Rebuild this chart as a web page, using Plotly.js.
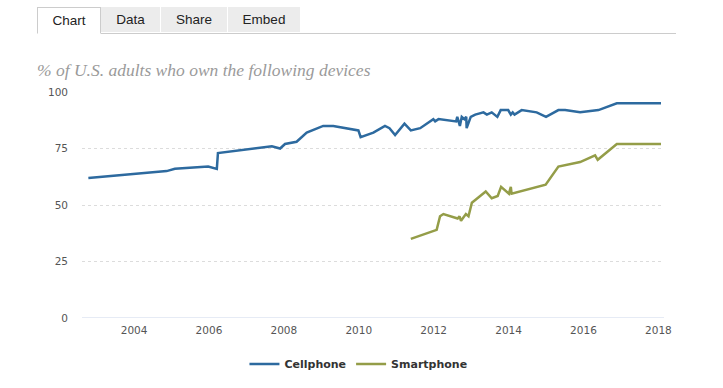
<!DOCTYPE html>
<html>
<head>
<meta charset="utf-8">
<script src="https://cdn.plot.ly/plotly-3.0.1.min.js"></script>
<style>
  html, body { margin: 0; padding: 0; background: #fff; }
  #wrap { position: relative; width: 723px; height: 388px; overflow: hidden; }
  #chart { position: absolute; left: 0; top: 0; width: 723px; height: 388px; }
  #tabs { position: absolute; left: 37px; top: 7px; width: 639px; height: 26px; border-bottom: 1px solid #ccc; z-index: 5; font-family: "Liberation Sans", Arial, sans-serif; font-size: 13.5px; color: #222; }
  .tab { position: absolute; top: 0; height: 25px; line-height: 25px; text-align: center; background: #ececec; border-right: 1px solid #fff; }
  .tab.active { background: #fff; border: 1px solid #ccc; border-bottom: 1px solid #fff; height: 25px; top: 0; }
</style>
</head>
<body>
<div id="wrap">
  <div id="chart"></div>
  <div id="tabs">
    <div class="tab active" style="left:0px;width:62px;">Chart</div>
    <div class="tab" style="left:64px;width:59px;">Data</div>
    <div class="tab" style="left:124px;width:66px;">Share</div>
    <div class="tab" style="left:191px;width:72px;">Embed</div>
  </div>
</div>
<script>
// Survey dates (decimal years) and % of U.S. adults
var cellYears = [2002.78, 2004.87, 2005.09, 2005.98, 2006.21, 2006.24, 2007.68, 2007.90, 2008.03, 2008.34,
                 2008.61, 2009.05, 2009.32, 2009.99, 2010.05, 2010.39, 2010.70, 2010.82, 2010.97, 2011.22,
                 2011.39, 2011.64, 2011.99, 2012.04, 2012.13, 2012.60, 2012.63, 2012.70, 2012.75, 2012.82,
                 2012.87, 2012.88, 2012.99, 2013.11, 2013.33, 2013.42, 2013.55, 2013.70, 2013.79, 2013.99,
                 2014.06, 2014.11, 2014.16, 2014.35, 2014.75, 2015.00, 2015.33, 2015.51, 2015.91, 2016.40,
                 2016.89, 2018.07];
var cellValues = [62, 65, 66, 67, 66, 73, 76, 75, 77, 78,
                  82, 85, 85, 83, 80, 82, 85, 84, 81, 86,
                  83, 84, 88, 87, 88, 87, 89, 85, 89, 88,
                  89, 84, 89, 90, 91, 90, 91, 89, 92, 92,
                  90, 91, 90, 92, 91, 89, 92, 92, 91, 92,
                  95, 95];

var smartYears = [2011.39, 2012.08, 2012.17, 2012.26, 2012.64, 2012.69, 2012.73, 2012.86, 2012.93, 2013.02,
                  2013.39, 2013.55, 2013.71, 2013.80, 2014.01, 2014.06, 2014.08, 2014.99, 2015.33, 2015.91,
                  2016.31, 2016.38, 2016.89, 2018.07];
var smartValues = [35, 39, 45, 46, 44, 45, 43, 46, 45, 51,
                   56, 53, 54, 58, 55, 58, 55, 59, 67, 69,
                   72, 70, 77, 77];

var seriesNames = ["Cellphone", "Smartphone"];
var xTicks = [2004, 2006, 2008, 2010, 2012, 2014, 2016, 2018];
var yTicks = [0, 25, 50, 75, 100];
var chartTitle = "% of U.S. adults who own the following devices";

var traces = [
  { x: cellYears, y: cellValues, name: seriesNames[0], type: "scatter", mode: "lines",
    line: { color: "#2d6a9f", width: 2.5 } },
  { x: smartYears, y: smartValues, name: seriesNames[1], type: "scatter", mode: "lines",
    line: { color: "#949d48", width: 2.5 } }
];

var layout = {
  width: 723, height: 388,
  margin: { l: 82, r: 59, t: 92, b: 70 },
  paper_bgcolor: "#fff", plot_bgcolor: "#fff",
  showlegend: true,
  title: {
    text: chartTitle,
    x: 37 / 723, xanchor: "left", xref: "container",
    y: 1 - 70 / 388, yanchor: "middle", yref: "container",
    font: { family: "Liberation Serif, Georgia, serif", size: 17.5, style: "italic", color: "#9a9a9a" }
  },
  xaxis: {
    range: [2002.61, 2018.15],
    tickvals: xTicks, ticktext: xTicks.map(String),
    showgrid: false, zeroline: false, showline: false, ticks: "",
    tickfont: { family: "DejaVu Sans, sans-serif", size: 10.5, color: "#555" },
    ticklabelstandoff: 4,
    fixedrange: true
  },
  yaxis: {
    range: [0, 100],
    tickvals: yTicks,
    showgrid: true, gridcolor: "#dcdcdc", griddash: "dot", gridwidth: 1,
    zeroline: false, showline: false, ticks: "",
    tickfont: { family: "DejaVu Sans, sans-serif", size: 10.5, color: "#555" },
    ticklabelstandoff: 13,
    fixedrange: true
  },
  shapes: [
    { type: "line", xref: "paper", yref: "y", x0: 0, x1: 1, y0: 0, y1: 0,
      line: { color: "#ccd6eb", width: 1 } }
  ],
  legend: {
    orientation: "h", x: 0.475, xanchor: "center",
    yref: "container", y: 1 - 364 / 388, yanchor: "middle",
    font: { family: "DejaVu Sans, sans-serif", size: 11, color: "#333", weight: "bold" },
    itemclick: false, itemdoubleclick: false
  },
  hovermode: false
};

Plotly.newPlot("chart", traces, layout, { displayModeBar: false, staticPlot: true });
</script>
</body>
</html>
